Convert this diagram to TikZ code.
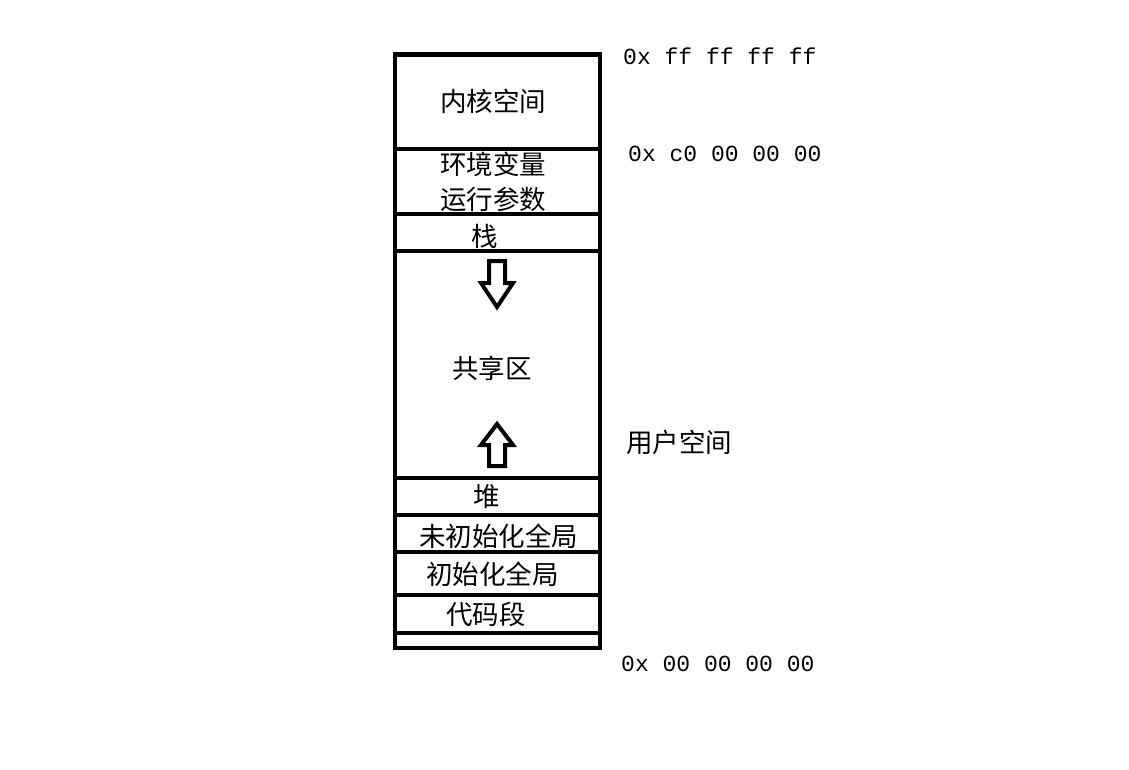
\documentclass[tikz,border=0pt]{standalone}
\usepackage{fontspec}
\usepackage{tikz}
\newfontfamily\cjk{Noto Sans CJK SC}
\newfontfamily\hexfont{Liberation Mono}
\tikzset{
	seg/.style={inner sep=0pt, font=\cjk\fontsize{26.5}{34.5}\selectfont, align=center},
	addr/.style={inner sep=0pt, anchor=west, font=\hexfont\fontsize{23}{28}\selectfont},
	wall/.style={line width=4.5pt},
	growth/.style={line width=4pt, line join=miter}
}

\begin{document}
\begin{tikzpicture}[x=1pt, y=-1pt]
			%%%%% START %%%%%
			\useasboundingbox (0, 0) rectangle (1129, 769);
			
			% memory column
			\draw[wall] (395, 54.5) rectangle (600, 648);
			\foreach \ypos in {149, 214, 251, 478, 515, 552, 595, 633}
				\draw[wall] (395, \ypos) -- (600, \ypos);
			
			% segments
			\node[seg] (kernel) at (493, 101) {内核空间};
			\node[seg] (env) at (493, 182) {环境变量\\运行参数};
			\node[seg] (stack) at (484.5, 236) {栈};
			\node[seg] (shared) at (492, 368.5) {共享区};
			\node[seg] (heap) at (486.5, 496) {堆};
			\node[seg] (bss) at (498.5, 536) {未初始化全局};
			\node[seg] (data) at (492.5, 574.5) {初始化全局};
			\node[seg] (code) at (486, 614) {代码段};
			
			% stack grows down, heap grows up
			\draw[growth] (489, 261) -- (505, 261) -- (505, 283) -- (513, 283) -- (497, 307) -- (481, 283) -- (489, 283) -- cycle;
			\draw[growth] (489, 466) -- (505, 466) -- (505, 445) -- (513, 445) -- (497, 424) -- (481, 445) -- (489, 445) -- cycle;
			
			% addresses
			\node[addr] (addrtop) at (623, 56) {0x ff ff ff ff};
			\node[addr] (addrkernel) at (628, 154) {0x c0 00 00 00};
			\node[addr] (addrbottom) at (621, 663.5) {0x 00 00 00 00};
			\node[seg, anchor=west] (user) at (626, 442) {用户空间};
			
			%%%%% END %%%%%
\end{tikzpicture}
\end{document}
